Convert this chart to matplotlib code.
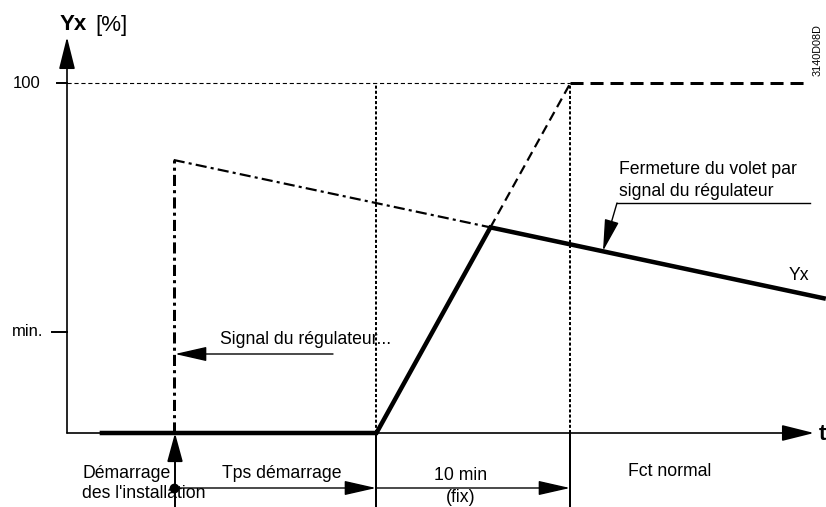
import numpy as np
import matplotlib
matplotlib.use("Agg")
import matplotlib.pyplot as plt

plt.rcParams['font.family'] = ['Liberation Sans', 'DejaVu Sans']
plt.rcParams['lines.scale_dashes'] = False

# ---------------- data (time units = min, Yx in %) ----------------
t_thick_start = 1.8      # start of drawn Yx line
t_startup = 5.5          # plant start-up
t_ramp_start = 15.95     # end of start-up time
ramp_duration = 10.0     # 10 min (fixed)
t_end = 39.0             # right end of Yx curve
t_dash_end = 38.0        # end of 100 % dashed line
yx_max = 100.0
yx_min = 29.0
signal_start = 78.0      # controller signal at start-up
signal_end = 38.5        # controller signal at t_end

tick_values = [yx_min, yx_max]
tick_labels = ["min.", "100"]

# derived
t_ramp_end = t_ramp_start + ramp_duration
sig_slope = (signal_end - signal_start) / (t_end - t_startup)
ramp_slope = yx_max / ramp_duration
# intersection of ramp with controller signal
t_int = (signal_start - sig_slope * t_startup + ramp_slope * t_ramp_start) / (ramp_slope - sig_slope)
y_int = ramp_slope * (t_int - t_ramp_start)

# ---------------- figure ----------------
W, H = 826, 507
fig = plt.figure(figsize=(W / 100, H / 100), dpi=100)
ax = fig.add_axes([0, 0, 1, 1])
ax.set_axis_off()
X0, Y0, KX, KY = 67.0, 433.0, 19.4, 3.5   # px origin and px per unit
ax.set_xlim(-X0 / KX, (W - X0) / KX)
ax.set_ylim(-(H - Y0) / KY, Y0 / KY)

def P(xp, yp):
    """pixel position -> data coords (for annotation placement only)"""
    return ((xp - X0) / KX, (Y0 - yp) / KY)

px = 72 / 100  # points per pixel
k = 'k'
FS = 12.7

def arrow(p_from, p_to, hl=1.0, hw=0.25, ms=20, lw=1.0):
    ax.annotate('', xy=p_to, xytext=p_from,
                arrowprops=dict(arrowstyle=f'-|>,head_length={hl},head_width={hw}',
                                mutation_scale=ms, color=k, lw=lw,
                                shrinkA=0, shrinkB=0))

# axes with arrows
arrow(P(67, 433), P(67, 37), lw=1.2)
arrow(P(67, 433), P(814, 433), lw=1.2)
ax.text(*P(60, 25), "Yx", fontsize=16, fontweight='bold', ha='left', va='center')
ax.text(*P(95, 25), "[%]", fontsize=16, ha='left', va='center')
ax.text(*P(819, 434), "t", fontsize=16, fontweight='bold', ha='left', va='center')

# y ticks
tick_len = {"100": 10, "min.": 15}
for v, lab in zip(tick_values, tick_labels):
    ax.plot([-tick_len[lab] / KX, 0], [v, v], color=k, lw=1.4)
ax.text(*P(40, 83), tick_labels[1], fontsize=12, ha='right', va='center')
ax.text(*P(43, 331), tick_labels[0], fontsize=12, ha='right', va='center')

# 100 % lines
ax.plot([0, t_ramp_end], [yx_max, yx_max], color=k, lw=1.0 * px * 1.1, dashes=(3, 2))
ax.plot([t_ramp_end, t_dash_end], [yx_max, yx_max], color=k, lw=3 * px, dashes=(9.4, 5))

# vertical dotted lines and solid below the axis
for tv in [t_ramp_start, t_ramp_end]:
    ax.plot([tv, tv], [0, yx_max], color=k, lw=2 * px, dashes=(2.2, 1.5))
    ax.plot([tv, tv], [0, -(H - Y0) / KY], color=k, lw=2 * px)

# controller signal (dash-dot)
ax.plot([t_startup, t_startup], [0, signal_start], color=k, lw=3 * px, dashes=(8, 3, 2.2, 3))
ax.plot([t_startup, t_int], [signal_start, signal_start + sig_slope * (t_int - t_startup)],
        color=k, lw=2.2 * px, dashes=(8, 3, 2.2, 3))

# Yx curve (thick)
ax.plot([t_thick_start, t_ramp_start, t_int, t_end],
        [0, 0, y_int, signal_end], color=k, lw=4.5 * px, solid_joinstyle='miter')
# ramp continuation (dashed)
ax.plot([t_int, t_ramp_end], [y_int, yx_max], color=k, lw=2.2 * px, dashes=(7, 4))

# start-up arrow and dot
arrow(P(175, 507), P(175, 433), hl=1.1, hw=0.3, ms=16, lw=1.4)
ax.plot(*P(174, 488), 'o', color=k, ms=6)
# dimension arrows
arrow(P(175, 488), P(376, 488), hl=1.1, hw=0.25, ms=18, lw=1.0)
arrow(P(376, 488), P(570, 488), hl=1.1, hw=0.25, ms=18, lw=1.0)

# annotations
arrow(P(333, 354), P(175, 354), hl=1.1, hw=0.25, ms=18, lw=1.0)
ax.text(*P(220, 340), "Signal du régulateur...", fontsize=FS, ha='left', va='center')

ax.plot(*zip(P(810, 203), P(617, 203)), color=k, lw=1.0)
arrow(P(617, 203), P(603, 251), hl=1.1, hw=0.25, ms=18, lw=1.0)
ax.text(*P(619, 169), "Fermeture du volet par", fontsize=FS, ha='left', va='center')
ax.text(*P(619, 192), "signal du régulateur", fontsize=FS, ha='left', va='center')
ax.text(*P(789, 276), "Yx", fontsize=FS, ha='left', va='center')

# bottom labels
ax.text(*P(82, 474), "Démarrage", fontsize=FS, ha='left', va='center')
ax.text(*P(82, 494), "des l'installation", fontsize=FS, ha='left', va='center')
ax.text(*P(282, 474), "Tps démarrage", fontsize=FS, ha='center', va='center')
ax.text(*P(461, 475), "10 min", fontsize=FS, ha='center', va='center')
ax.text(*P(461, 497), "(fix)", fontsize=FS, ha='center', va='center')
ax.text(*P(670, 472), "Fct normal", fontsize=FS, ha='center', va='center')

ax.text(*P(818, 50), "3140D08D", fontsize=7.8, rotation=90, ha='center', va='center')

fig.savefig("out.png", dpi=100)
